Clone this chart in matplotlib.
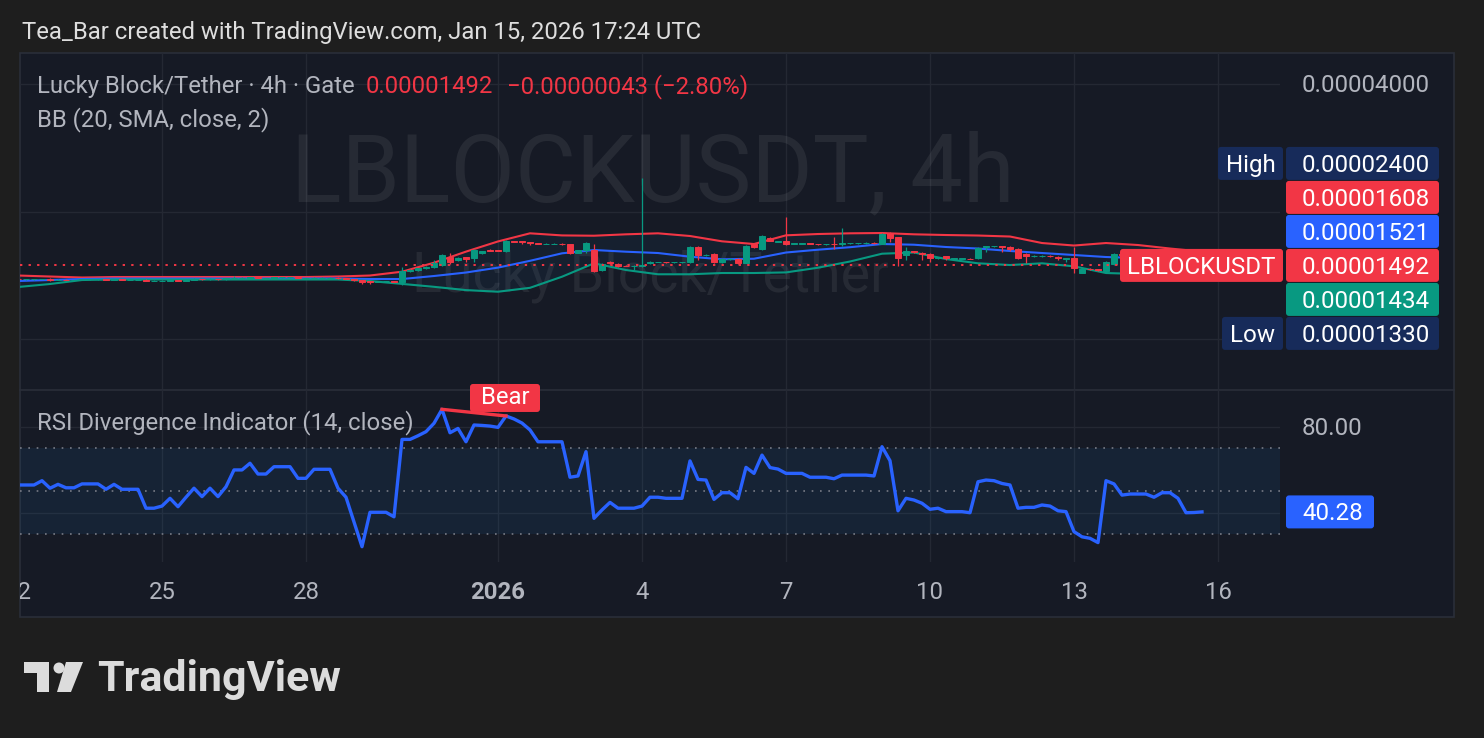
import matplotlib
matplotlib.use('Agg')
import matplotlib.pyplot as plt
from matplotlib.patches import Rectangle, FancyBboxPatch, Polygon, Circle

# ---------------- data (prices in units of 1e-5 USDT) ----------------
opens = [
 1.385,1.383,1.383,1.383,1.386,1.378,1.381,1.379,1.379,1.383,
 1.383,1.383,1.380,1.384,1.381,1.381,1.381,1.372,1.372,1.374,
 1.380,1.373,1.381,1.388,1.382,1.388,1.382,1.390,1.396,1.396,
 1.399,1.394,1.394,1.398,1.398,1.398,1.393,1.393,1.397,1.397,
 1.397,1.390,1.386,1.375,1.372,1.366,1.368,1.368,1.363,1.447,
 1.455,1.471,1.479,1.495,1.562,1.537,1.560,1.553,1.595,1.625,
 1.622,1.613,1.704,1.700,1.695,1.685,1.674,1.676,1.680,1.676,
 1.600,1.622,1.622,1.455,1.520,1.505,1.490,1.486,1.489,1.510,
 1.520,1.522,1.518,1.518,1.518,1.649,1.576,1.587,1.520,1.545,
 1.545,1.512,1.675,1.631,1.732,1.697,1.704,1.680,1.680,1.682,
 1.676,1.672,1.676,1.672,1.683,1.683,1.684,1.686,1.676,1.779,
 1.741,1.575,1.612,1.598,1.587,1.553,1.570,1.548,1.549,1.549,
 1.553,1.649,1.656,1.658,1.649,1.631,1.587,1.568,1.570,1.574,
 1.565,1.548,1.553,1.435,1.465,1.462,1.447,1.503,1.587,1.580,
 1.578,1.582,1.580,1.575,1.578,1.580,1.570,1.540,1.535]
highs = [
 1.388,1.386,1.385,1.389,1.391,1.383,1.383,1.381,1.385,1.385,
 1.385,1.384,1.386,1.385,1.383,1.383,1.383,1.375,1.376,1.382,
 1.381,1.383,1.390,1.389,1.390,1.389,1.392,1.408,1.398,1.401,
 1.400,1.396,1.400,1.400,1.400,1.399,1.395,1.399,1.399,1.399,
 1.398,1.392,1.388,1.377,1.374,1.370,1.370,1.370,1.479,1.465,
 1.475,1.490,1.537,1.590,1.596,1.560,1.565,1.630,1.618,1.628,
 1.625,1.712,1.708,1.704,1.698,1.688,1.682,1.684,1.683,1.680,
 1.625,1.690,1.676,1.510,1.530,1.510,1.493,1.493,2.400,1.525,
 1.524,1.524,1.522,1.522,1.660,1.655,1.585,1.592,1.550,1.550,
 1.550,1.665,1.685,1.758,1.740,1.705,1.941,1.686,1.686,1.685,
 1.680,1.678,1.741,1.828,1.688,1.688,1.690,1.690,1.779,1.785,
 1.745,1.649,1.618,1.602,1.592,1.562,1.574,1.554,1.554,1.553,
 1.648,1.662,1.662,1.662,1.655,1.636,1.592,1.576,1.578,1.578,
 1.568,1.556,1.649,1.470,1.470,1.466,1.525,1.595,1.595,1.590,
 1.592,1.590,1.585,1.588,1.590,1.584,1.574,1.552,1.540]
lows = [
 1.380,1.381,1.381,1.382,1.371,1.376,1.377,1.377,1.378,1.381,
 1.381,1.378,1.379,1.379,1.379,1.379,1.368,1.370,1.369,1.373,
 1.370,1.372,1.380,1.380,1.381,1.380,1.381,1.389,1.394,1.395,
 1.392,1.392,1.393,1.396,1.396,1.391,1.391,1.392,1.395,1.395,
 1.388,1.384,1.372,1.352,1.345,1.364,1.365,1.362,1.341,1.440,
 1.450,1.466,1.470,1.490,1.503,1.530,1.520,1.520,1.590,1.612,
 1.610,1.608,1.690,1.676,1.667,1.674,1.672,1.674,1.670,1.590,
 1.596,1.596,1.440,1.450,1.500,1.480,1.485,1.455,1.480,1.505,
 1.516,1.514,1.515,1.515,1.515,1.537,1.572,1.515,1.515,1.540,
 1.505,1.508,1.640,1.625,1.700,1.692,1.667,1.676,1.676,1.672,
 1.670,1.668,1.631,1.660,1.680,1.680,1.680,1.678,1.672,1.695,
 1.487,1.537,1.600,1.537,1.520,1.548,1.537,1.544,1.544,1.542,
 1.548,1.605,1.652,1.605,1.615,1.548,1.512,1.564,1.566,1.565,
 1.537,1.520,1.432,1.430,1.458,1.450,1.440,1.495,1.572,1.570,
 1.574,1.574,1.568,1.570,1.574,1.562,1.530,1.528,1.485]
closes = [
 1.383,1.383,1.383,1.386,1.378,1.381,1.379,1.379,1.383,1.383,
 1.383,1.380,1.384,1.381,1.381,1.381,1.372,1.372,1.374,1.380,
 1.373,1.381,1.388,1.382,1.388,1.382,1.390,1.396,1.396,1.399,
 1.394,1.394,1.398,1.398,1.398,1.393,1.393,1.397,1.397,1.397,
 1.390,1.386,1.375,1.362,1.366,1.368,1.368,1.366,1.447,1.455,
 1.471,1.483,1.512,1.579,1.520,1.553,1.545,1.622,1.613,1.618,
 1.616,1.704,1.695,1.695,1.685,1.678,1.678,1.680,1.674,1.596,
 1.620,1.685,1.447,1.503,1.510,1.490,1.488,1.490,1.495,1.520,
 1.522,1.518,1.518,1.519,1.649,1.579,1.578,1.520,1.545,1.545,
 1.512,1.658,1.645,1.750,1.704,1.700,1.680,1.682,1.682,1.675,
 1.674,1.675,1.672,1.683,1.684,1.685,1.686,1.682,1.770,1.732,
 1.553,1.610,1.605,1.590,1.555,1.558,1.550,1.550,1.550,1.547,
 1.640,1.658,1.657,1.645,1.635,1.553,1.570,1.572,1.574,1.570,
 1.555,1.552,1.471,1.465,1.462,1.455,1.520,1.587,1.580,1.578,
 1.582,1.580,1.575,1.578,1.580,1.570,1.540,1.535,1.492]

# Bollinger bands read every 4th bar (bar index)
bb_idx = [0,4,8,12,16,20,24,28,32,36,40,44,48,52,56,60,64,68,72,76,
          80,84,88,92,96,100,104,108,112,116,120,124,128,132,136,140,144,148]
bb_upper = [1.4123,1.4046,1.3970,1.4008,1.4008,1.4008,1.4008,1.4008,1.4008,1.4008,
            1.4046,1.4123,1.4418,1.5141,1.6082,1.6998,1.7765,1.7563,1.7534,1.7668,
            1.7765,1.7506,1.7009,1.6760,1.7572,1.7697,1.7765,1.7794,1.7668,1.7601,
            1.7553,1.7458,1.6851,1.6624,1.6851,1.6669,1.6355,1.6080]
bb_basis = [1.3707,1.3781,1.3856,1.3894,1.3894,1.3894,1.3894,1.3894,1.3894,1.3894,
            1.3894,1.3856,1.3856,1.4085,1.4355,1.4743,1.5298,1.5934,1.6223,1.6074,
            1.5960,1.5643,1.5423,1.5473,1.6004,1.6250,1.6472,1.6761,1.6697,1.6490,
            1.6356,1.6138,1.5960,1.5788,1.5617,1.5533,1.5364,1.5210]
bb_lower = [1.3267,1.3485,1.3781,1.3819,1.3819,1.3819,1.3819,1.3819,1.3819,1.3819,
            1.3819,1.3707,1.3493,1.3281,1.3045,1.2932,1.3209,1.4031,1.5091,1.4551,
            1.4218,1.4218,1.4316,1.4316,1.4363,1.4735,1.5240,1.5900,1.6004,1.5448,
            1.5091,1.4952,1.5091,1.4847,1.4316,1.4241,1.4241,1.4340]

rsi = [
 52.8,52.8,52.8,54.8,51.3,53.1,51.5,51.5,53.3,53.3,
 53.3,50.8,53.1,50.8,50.8,50.8,42.0,42.0,43.0,46.6,
 42.7,47.1,51.3,47.4,51.3,47.4,52.0,59.8,59.8,62.9,
 57.9,57.9,61.3,61.3,61.3,55.9,55.9,60.1,60.1,60.1,
 51.3,47.1,35.6,24.1,40.1,40.1,40.1,38.0,74.0,74.0,
 75.7,77.6,81.5,88.0,77.1,79.1,72.9,80.7,80.5,80.2,
 79.6,84.9,83.5,81.6,78.4,72.9,72.9,72.9,72.9,56.4,
 57.0,68.3,37.3,41.2,44.7,42.0,42.0,42.0,43.0,47.1,
 47.1,46.6,46.6,46.6,64.0,55.4,55.1,46.1,49.2,49.2,
 46.4,61.0,58.2,66.7,60.9,60.2,58.2,58.2,58.2,56.4,
 56.4,56.4,55.7,57.4,57.4,57.4,57.4,57.0,70.6,64.1,
 40.8,46.6,45.8,44.3,41.5,42.0,40.4,40.4,40.4,39.9,
 54.3,55.1,54.8,53.5,52.8,42.0,42.4,42.4,43.5,43.0,
 40.8,40.4,31.1,28.7,28.0,26.0,54.8,53.3,48.1,48.6,
 48.6,48.6,47.1,49.2,49.2,46.6,39.9,40.0,40.28]

bear_pivots = [53, 61]          # bar indices of the bearish divergence
time_ticks = [0, 18, 36, 60, 78, 96, 114, 132, 150]
time_labels = ['22', '25', '28', '2026', '4', '7', '10', '13', '16']
price_grid = [1.0, 2.0, 4.0]
last_price, prev_change, pct_change = 1.492, -0.043, -2.80
high_val, low_val = 2.400, 1.330
upper_val, basis_val, lower_val = 1.608, 1.521, 1.434
rsi_last = 40.28

# ---------------- styling ----------------
FONT = ['Roboto', 'DejaVu Sans']
plt.rcParams['font.family'] = FONT
W, H = 1484, 738
BG_OUT = '#1e1e1e'
BG = '#161a25'
GRID = '#242833'
TXT = '#b2b5be'
UP, DN = '#089981', '#f23645'
BLUE = '#2962ff'
NAVY = '#172b5a'
FS = 17.2
FSL = 17.4
DY = 1.8   # vertical nudge for text centring

fig = plt.figure(figsize=(W / 100, H / 100), dpi=100)
fig.patch.set_facecolor(BG_OUT)

def frac_rect(x0, y0, x1, y1):
    return [x0 / W, 1 - y1 / H, (x1 - x0) / W, (y1 - y0) / H]

# background overlay (pixel coordinates, y downwards)
bg = fig.add_axes([0, 0, 1, 1], zorder=0)
bg.set_xlim(0, W); bg.set_ylim(H, 0); bg.axis('off')
bg.add_patch(Rectangle((20, 53), 1434, 564, facecolor=BG, edgecolor='#2a2e39', lw=1.2))
bg.plot([20, 1454], [389.5, 389.5], color='#2a2e39', lw=1.2)

L, R = 20, 1280
ax = fig.add_axes(frac_rect(L, 53, R, 389), zorder=1)
axr = fig.add_axes(frac_rect(L, 390, R, 562), zorder=1)
axt = fig.add_axes(frac_rect(L, 562, R, 617), zorder=1)
for a in (ax, axr, axt):
    a.set_facecolor('none')
    for s in a.spines.values():
        s.set_visible(False)
    a.set_xticks([]); a.set_yticks([])
    a.set_xlim(0.25, 157.75)

ax.set_yscale('log', base=2)
ax.set_ylim(0.762, 4.735)
ax.minorticks_off()
ax.set_yticks([])
axr.set_ylim(16.98, 96.98)
axt.set_ylim(0, 1)

# grid
for t in time_ticks:
    ax.axvline(t, color=GRID, lw=1, zorder=0)
    axr.axvline(t, color=GRID, lw=1, zorder=0)
for p in price_grid:
    ax.axhline(p, color=GRID, lw=1, zorder=0)
for r in (40, 80):
    axr.axhline(r, color=GRID, lw=1, zorder=0)

# watermark
ax.text(79.3, 2.43, 'LBLOCKUSDT, 4h', ha='center', va='center', fontsize=67.5,
        color='white', alpha=0.07, zorder=0)
ax.text(79.0, 1.405, 'Lucky Block/Tether', ha='center', va='center', fontsize=40,
        color='white', alpha=0.07, zorder=0)

# bollinger bands
ax.fill_between(bb_idx, bb_lower, bb_upper, color='#2196f3', alpha=0.05, lw=0, zorder=1)
ax.plot(bb_idx, bb_upper, color=DN, lw=1.5, zorder=2)
ax.plot(bb_idx, bb_basis, color=BLUE, lw=1.5, zorder=2)
ax.plot(bb_idx, bb_lower, color=UP, lw=1.5, zorder=2)

# candles
for i, (o, h, l, c) in enumerate(zip(opens, highs, lows, closes)):
    col = UP if c >= o else DN
    ax.vlines(i, l, h, color=col, lw=0.9, zorder=3)
    ax.add_patch(Rectangle((i - 0.33, min(o, c)), 0.66, abs(c - o),
                           facecolor=col, edgecolor=col, lw=0.7, zorder=3))

# last price dotted line
ax.axhline(last_price, color=DN, lw=1.4, linestyle=(0, (1.2, 3.2)), zorder=4)

# RSI pane
axr.axhspan(30, 70, color='#2196f3', alpha=0.08, lw=0, zorder=0)
for lvl in (70, 50, 30):
    axr.axhline(lvl, color='#787b86', lw=1.2, linestyle=(0, (1.0, 4.0)), zorder=1)
axr.plot(range(len(rsi)), rsi, color=BLUE, lw=2.4, zorder=3, solid_joinstyle='round')
axr.plot(bear_pivots, [rsi[k] for k in bear_pivots], color=DN, lw=2.4, zorder=4)

# time axis labels
for t, lab in zip(time_ticks, time_labels):
    axt.text(t, 0.45, lab, ha='center', va='center', fontsize=FS, color=TXT,
             fontweight='bold' if lab == '2026' else 'normal', clip_on=True)

# ---------------- overlay: legends and price labels ----------------
ov = fig.add_axes([0, 0, 1, 1], zorder=5)
ov.set_xlim(0, W); ov.set_ylim(H, 0); ov.axis('off')
ov.patch.set_visible(False)

def to_px(a, x, y):
    dx, dy = a.transData.transform((x, y))
    return dx, H - dy

ov.text(22, 31 + DY, 'Tea_Bar created with TradingView.com, Jan 15, 2026 17:24 UTC',
        fontsize=FS, color='#dedede', va='center', ha='left')
ov.text(37, 85 + DY, 'Lucky Block/Tether · 4h · Gate', fontsize=FS, color=TXT, va='center')
ov.text(366, 85 + DY, f'{last_price * 1e-5:.8f}', fontsize=FS, color=DN, va='center')
ov.text(507, 85 + DY, f'\u2212{abs(prev_change) * 1e-5:.8f} (\u2212{abs(pct_change):.2f}%)',
        fontsize=FS, color=DN, va='center')
ov.text(37, 118 + DY, 'BB (20, SMA, close, 2)', fontsize=FS, color=TXT, va='center')
ov.text(37, 421 + DY, 'RSI Divergence Indicator (14, close)', fontsize=FS, color=TXT, va='center')

# price scale label
_, y4 = to_px(ax, 1, price_grid[2])
ov.text(1302, y4 + DY, f'{price_grid[2] * 1e-5:.8f}', fontsize=FSL, color=TXT, va='center')
_, y80 = to_px(axr, 1, 80)
ov.text(1302, y80 + DY, '80.00', fontsize=FSL, color=TXT, va='center')

def box(x0, x1, yc, color, h=33):
    ov.add_patch(FancyBboxPatch((x0 + 2, yc - h / 2 + 2), x1 - x0 - 4, h - 4,
                                boxstyle='round,pad=2,rounding_size=3',
                                facecolor=color, edgecolor='none'))

_, yc = to_px(ax, 1, last_price)
stack = [(high_val, NAVY, -3), (upper_val, DN, -2), (basis_val, BLUE, -1),
         (last_price, DN, 0), (lower_val, UP, 1), (low_val, NAVY, 2)]
for val, col, k in stack:
    yy = yc + k * 34
    box(1286, 1439, yy, col)
    ov.text(1302, yy + DY, f'{val * 1e-5:.8f}', fontsize=FSL, color='white', va='center')
box(1218, 1283, yc - 3 * 34, NAVY)
ov.text(1250.5, yc - 3 * 34 + DY, 'High', fontsize=FSL, color='white', va='center', ha='center')
box(1222, 1283, yc + 2 * 34, NAVY)
ov.text(1252.5, yc + 2 * 34 + DY, 'Low', fontsize=FSL, color='white', va='center', ha='center')
box(1120, 1283, yc, DN)
ov.text(1201.5, yc + DY, 'LBLOCKUSDT', fontsize=FSL, color='white', va='center', ha='center')

# RSI value label
_, yr = to_px(axr, 1, rsi_last)
box(1286, 1374, yr, BLUE)
ov.text(1302, yr + DY, f'{rsi_last:.2f}', fontsize=FSL, color='white', va='center')

# Bear label above second pivot
bx, by = to_px(axr, bear_pivots[1], rsi[bear_pivots[1]])
box(bx - 36, bx + 34, by - 18, DN, h=28)
ov.text(bx - 1, by - 18, 'Bear', fontsize=FS, color='white', va='center', ha='center')

# TradingView logo
LOGO = '#dcdcdc'
ov.add_patch(Polygon([(24, 662), (49, 662), (49, 692), (37, 692), (37, 673), (24, 673)],
                     closed=True, facecolor=LOGO, edgecolor='none'))
ov.add_patch(Circle((59, 668), 5.5, facecolor=LOGO, edgecolor='none'))
ov.add_patch(Polygon([(66, 662), (83, 662), (71, 692), (57, 692)],
                     closed=True, facecolor=LOGO, edgecolor='none'))
ov.text(97, 679, 'TradingView', fontsize=31, fontweight='bold', color=LOGO,
        va='center', ha='left')

fig.savefig('out.png', dpi=100, facecolor=fig.get_facecolor())
